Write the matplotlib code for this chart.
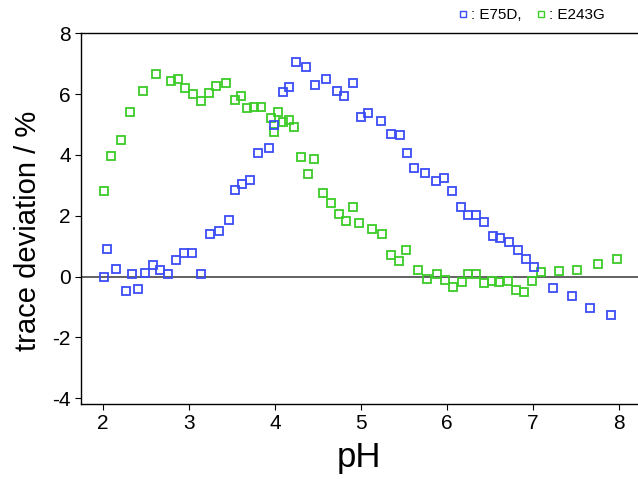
import numpy as np
import matplotlib
matplotlib.use("Agg")
import matplotlib.pyplot as plt
from matplotlib.lines import Line2D

plt.rcParams['font.family'] = ['Liberation Sans', 'DejaVu Sans']
plt.rcParams['axes.unicode_minus'] = False

# E75D (blue)
ph_e75d = [2.01, 2.05, 2.15, 2.27, 2.34, 2.41, 2.49, 2.58, 2.66, 2.76, 2.85, 2.95,
           3.04, 3.14, 3.25, 3.35, 3.47, 3.54, 3.62, 3.71, 3.81, 3.93, 3.99, 4.09,
           4.16, 4.24, 4.36, 4.47, 4.60, 4.72, 4.80, 4.91, 5.00, 5.08, 5.23, 5.35,
           5.45, 5.54, 5.62, 5.75, 5.87, 5.97, 6.06, 6.16, 6.25, 6.34, 6.43, 6.53,
           6.62, 6.72, 6.82, 6.92, 7.01, 7.23, 7.45, 7.66, 7.91]
dev_e75d = [0.00, 0.90, 0.25, -0.49, 0.09, -0.40, 0.11, 0.38, 0.22, 0.10, 0.53, 0.77,
            0.79, 0.10, 1.41, 1.51, 1.85, 2.84, 3.05, 3.17, 4.07, 4.24, 4.98, 6.08,
            6.22, 7.04, 6.88, 6.30, 6.51, 6.11, 5.94, 6.35, 5.26, 5.39, 5.13, 4.69,
            4.64, 4.07, 3.58, 3.39, 3.14, 3.25, 2.83, 2.30, 2.03, 2.03, 1.78, 1.34,
            1.26, 1.15, 0.86, 0.58, 0.33, -0.36, -0.64, -1.03, -1.27]

# E243G (green)
ph_e243g = [2.02, 2.10, 2.21, 2.32, 2.47, 2.62, 2.79, 2.87, 2.96, 3.05, 3.14, 3.23,
            3.32, 3.43, 3.54, 3.61, 3.68, 3.76, 3.84, 3.95, 3.99, 4.04, 4.09, 4.16,
            4.22, 4.30, 4.38, 4.46, 4.56, 4.65, 4.74, 4.83, 4.91, 4.98, 5.13, 5.25,
            5.35, 5.44, 5.52, 5.66, 5.77, 5.88, 5.98, 6.07, 6.17, 6.25, 6.34, 6.43,
            6.52, 6.61, 6.71, 6.80, 6.90, 6.99, 7.09, 7.30, 7.51, 7.75, 7.98]
dev_e243g = [2.81, 3.98, 4.50, 5.41, 6.11, 6.65, 6.44, 6.51, 6.20, 6.00, 5.78, 6.02,
             6.26, 6.37, 5.82, 5.94, 5.53, 5.58, 5.56, 5.21, 4.76, 5.41, 5.07, 5.16,
             4.93, 3.94, 3.37, 3.85, 2.76, 2.41, 2.07, 1.82, 2.28, 1.76, 1.55, 1.39,
             0.72, 0.52, 0.88, 0.23, -0.08, 0.10, -0.12, -0.35, -0.17, 0.08, 0.08, -0.21,
             -0.14, -0.17, -0.13, -0.45, -0.51, -0.13, 0.16, 0.18, 0.23, 0.41, 0.58]

xticks = [2, 3, 4, 5, 6, 7, 8]
yticks = [-4, -2, 0, 2, 4, 6, 8]

blue = '#3a4cf5'
green = '#3ccc28'

fig = plt.figure(figsize=(6.38, 4.79), dpi=100)
ax = fig.add_axes([0.1265, 0.156, 0.8735, 0.7745])

ax.axhline(0, color='#555555', lw=1.3, zorder=1)
ax.plot(ph_e75d, dev_e75d, ls='none', marker='s', ms=5.5, mfc='none',
        mec=blue, mew=1.3, zorder=3)
ax.plot(ph_e243g, dev_e243g, ls='none', marker='s', ms=5.5, mfc='none',
        mec=green, mew=1.3, zorder=2)

ax.set_xlim(1.744, 8.22)
ax.set_ylim(-4.2, 8.0)
ax.set_xticks(xticks)
ax.set_yticks(yticks)
ax.tick_params(direction='out', length=4, width=0.8, labelsize=15, pad=3)
ax.spines['right'].set_visible(False)
for s in ['left', 'bottom', 'top']:
    ax.spines[s].set_linewidth(1.0)

ax.set_xlabel('pH', fontsize=25, labelpad=6)
ax.set_ylabel('trace deviation / %', fontsize=21)
ax.yaxis.set_label_coords(-0.069, 0.467)

handles = [Line2D([], [], ls='none', marker='s', ms=4.5, mfc='none', mec=blue, mew=1),
           Line2D([], [], ls='none', marker='s', ms=4.5, mfc='none', mec=green, mew=1)]
ax.legend(handles, [': E75D,', ': E243G'], ncol=2, frameon=False, fontsize=11,
          loc='center right', bbox_to_anchor=(0.94, 1.049), handlelength=0.6,
          handletextpad=0.2, columnspacing=1.0, borderpad=0, borderaxespad=0)

fig.savefig('out.png', dpi=100)
